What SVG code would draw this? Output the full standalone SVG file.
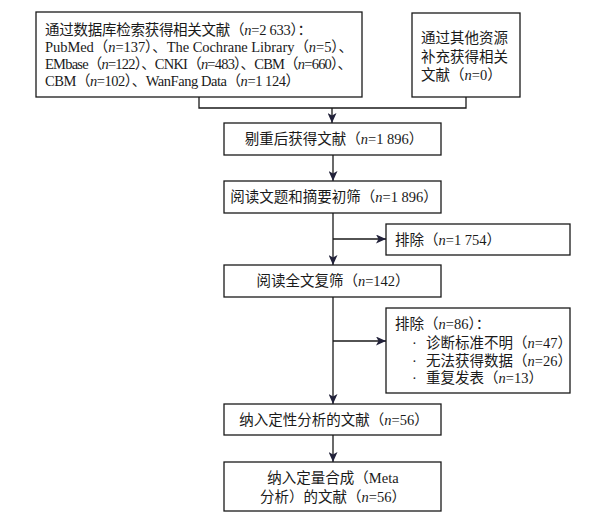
<svg xmlns="http://www.w3.org/2000/svg" width="589" height="517" viewBox="0 0 589 517">
<defs>
<style>
.box{fill:#fff;stroke:#1a1a1a;stroke-width:1.3}
.t{font-family:"Liberation Serif","Noto Sans CJK SC",serif;font-size:14.5px;fill:#1a1a1a}
.c{text-anchor:middle}
.i{font-style:italic}
.ln{fill:none;stroke:#1a1a1a;stroke-width:1.3}
</style>
<marker id="ah" markerUnits="userSpaceOnUse" markerWidth="11" markerHeight="9" refX="10" refY="4.5" orient="auto">
<path d="M0,0 L10,4.5 L0,9 L2.5,4.5 z" fill="#22223a"/>
</marker>
</defs>
<rect width="589" height="517" fill="#fff"/>

<g id="n1">
<rect class="box" x="36" y="12" width="326" height="85"/>
<text class="t" x="45" y="35" textLength="267" lengthAdjust="spacing">通过数据库检索获得相关文献（<tspan class="i">n</tspan>=2 633）：</text>
<text class="t" x="45" y="52" textLength="308" lengthAdjust="spacing">PubMed（<tspan class="i">n</tspan>=137）、The Cochrane Library（<tspan class="i">n</tspan>=5）、</text>
<text class="t" x="45" y="69" textLength="307" lengthAdjust="spacing">EMbase（<tspan class="i">n</tspan>=122）、CNKI（<tspan class="i">n</tspan>=483）、CBM（<tspan class="i">n</tspan>=660）、</text>
<text class="t" x="45" y="86" textLength="255" lengthAdjust="spacing">CBM（<tspan class="i">n</tspan>=102）、WanFang Data（<tspan class="i">n</tspan>=1 124）</text>
</g>

<g id="n2">
<rect class="box" x="412" y="13" width="108" height="84"/>
<text class="t" x="421" y="43">通过其他资源</text>
<text class="t" x="421" y="62">补充获得相关</text>
<text class="t" x="421" y="80">文献（<tspan class="i">n</tspan>=0）</text>
</g>

<g id="n3">
<rect class="box" x="224" y="123" width="217" height="32"/>
<text class="t c" x="334" y="144">剔重后获得文献（<tspan class="i">n</tspan>=1 896）</text>
</g>

<g id="n4">
<rect class="box" x="224" y="181" width="217" height="32"/>
<text class="t c" x="334" y="202">阅读文题和摘要初筛（<tspan class="i">n</tspan>=1 896）</text>
</g>

<g id="n5">
<rect class="box" x="386" y="224" width="184" height="31"/>
<text class="t" x="395" y="245">排除（<tspan class="i">n</tspan>=1 754）</text>
</g>

<g id="n6">
<rect class="box" x="224" y="265" width="217" height="32"/>
<text class="t c" x="333" y="286">阅读全文复筛（<tspan class="i">n</tspan>=142）</text>
</g>

<g id="n7">
<rect class="box" x="386" y="308" width="184" height="85"/>
<text class="t" x="395" y="329">排除（<tspan class="i">n</tspan>=86）：</text>
<text class="t" x="412" y="348">·</text>
<text class="t" x="426" y="348">诊断标准不明（<tspan class="i">n</tspan>=47）</text>
<text class="t" x="412" y="366">·</text>
<text class="t" x="426" y="366">无法获得数据（<tspan class="i">n</tspan>=26）</text>
<text class="t" x="412" y="383">·</text>
<text class="t" x="426" y="383">重复发表（<tspan class="i">n</tspan>=13）</text>
</g>

<g id="n8">
<rect class="box" x="224" y="404" width="217" height="31"/>
<text class="t c" x="334" y="425">纳入定性分析的文献（<tspan class="i">n</tspan>=56）</text>
</g>

<g id="n9">
<rect class="box" x="224" y="462" width="217" height="49"/>
<text class="t c" x="333" y="483">纳入定量合成（Meta</text>
<text class="t c" x="333" y="502">分析）的文献（<tspan class="i">n</tspan>=56）</text>
</g>

<g id="connectors">
<path class="ln" d="M199,97 V108 H466 V97"/>
<line class="ln" x1="332" y1="108" x2="332" y2="123" marker-end="url(#ah)"/>
<line class="ln" x1="333" y1="155" x2="333" y2="181" marker-end="url(#ah)"/>
<line class="ln" x1="333" y1="213" x2="333" y2="265" marker-end="url(#ah)"/>
<line class="ln" x1="333" y1="239" x2="386" y2="239" marker-end="url(#ah)"/>
<line class="ln" x1="333" y1="297" x2="333" y2="404" marker-end="url(#ah)"/>
<line class="ln" x1="333" y1="341" x2="386" y2="341" marker-end="url(#ah)"/>
<line class="ln" x1="333" y1="435" x2="333" y2="462" marker-end="url(#ah)"/>
</g>
</svg>
